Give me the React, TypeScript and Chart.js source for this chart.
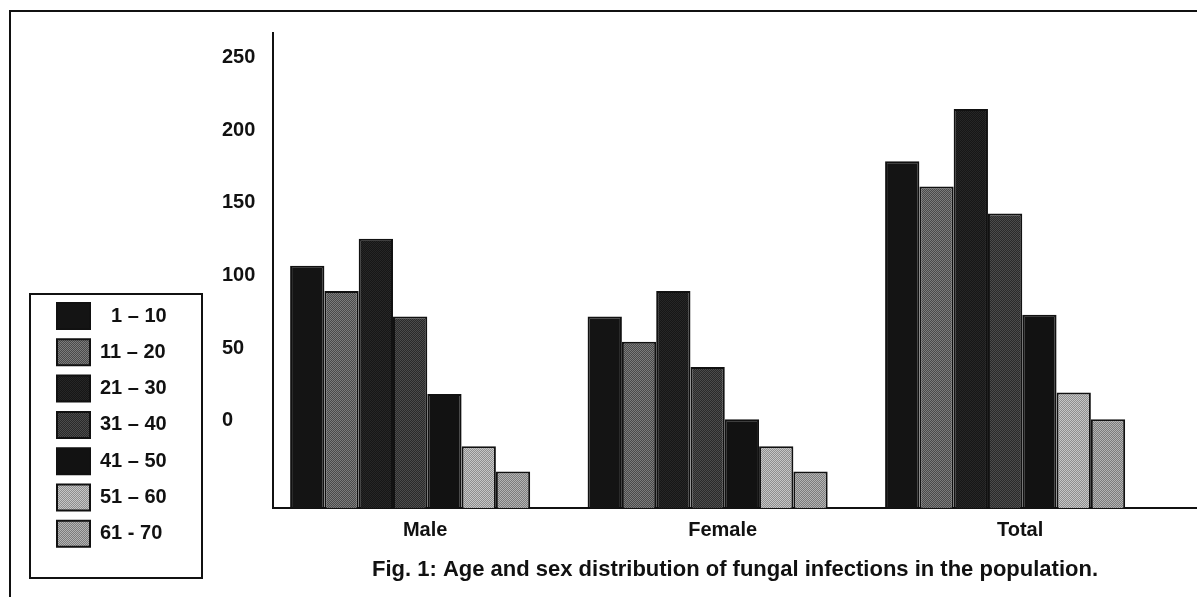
import React, { useEffect, useRef } from "react";
import { Chart, registerables } from "chart.js";

Chart.register(...registerables);

// ---- data ----
const categories = ["Male", "Female", "Total"];
const ageGroups = ["\u20071 – 10", "11 – 20", "21 – 30", "31 – 40", "41 – 50", "51 – 60", "61 - 70"];
const maleCounts = [103, 87, 120, 71, 22, -11, -27];
const femaleCounts = [71, 55, 87, 39, 6, -11, -27];
const totalCounts = [169, 153, 202, 136, 72, 23, 6];
const yTickValues = [0, 50, 100, 150, 200, 250];
const caption = "Fig. 1: Age and sex distribution of fungal infections in the population.";

// ---- styling ----
const W = 1197;
const H = 597;
const FONT = "'Liberation Sans', Arial, Helvetica, sans-serif";
const INK = "#111111";
// [base, speck] — equal values mean a solid fill
const fillSpecs: [string, string][] = [
  ["#141414", "#141414"],
  ["#4a4a4a", "#7c7c7c"],
  ["#161616", "#262626"],
  ["#2a2a2a", "#4c4c4c"],
  ["#121212", "#121212"],
  ["#8e8e8e", "#c6c6c6"],
  ["#7c7c7c", "#b4b4b4"],
];

function makeFill(a: string, b: string): string | CanvasPattern {
  if (a === b) return a;
  const c = document.createElement("canvas");
  c.width = 2;
  c.height = 2;
  const g = c.getContext("2d");
  if (!g) return a;
  g.fillStyle = a;
  g.fillRect(0, 0, 2, 2);
  g.fillStyle = b;
  g.fillRect(0, 0, 1, 1);
  g.fillRect(1, 1, 1, 1);
  return g.createPattern(c, "repeat") || a;
}

const framePlugin = {
  id: "pageFrame",
  beforeDraw(chart: any) {
    const ctx = chart.ctx;
    ctx.save();
    ctx.strokeStyle = INK;
    ctx.lineWidth = 2;
    ctx.beginPath();
    ctx.moveTo(10, H);
    ctx.lineTo(10, 11);
    ctx.lineTo(W, 11);
    ctx.stroke();
    ctx.restore();
  },
};

const legendFramePlugin = {
  id: "legendFrame",
  afterDraw(chart: any) {
    const hb = chart.legend && chart.legend.legendHitBoxes;
    if (!hb || !hb.length) return;
    const ctx = chart.ctx;
    ctx.save();
    ctx.strokeStyle = INK;
    ctx.lineWidth = 2;
    ctx.strokeRect(hb[0].left - 27, hb[0].top - 9, 172, 284);
    ctx.restore();
  },
};

export default function App() {
  const ref = useRef<HTMLCanvasElement | null>(null);

  useEffect(() => {
    if (!ref.current) return;
    const bySex = [maleCounts, femaleCounts, totalCounts];
    const datasets = ageGroups.map((label, i) => ({
      label,
      data: categories.map((_, c) => ({ x: c, y: bySex[c][i] })),
      backgroundColor: makeFill(fillSpecs[i][0], fillSpecs[i][1]),
      borderColor: INK,
      borderWidth: 2,
      base: -60,
      barPercentage: 1,
      categoryPercentage: 0.807,
    }));

    const chart = new Chart(ref.current, {
      type: "bar",
      data: { datasets },
      options: {
        animation: false,
        responsive: false,
        maintainAspectRatio: false,
        devicePixelRatio: 1,
        events: [],
        layout: { padding: { left: 46.7, top: 33, right: 0, bottom: 0 } },
        plugins: {
          tooltip: { enabled: false },
          legend: {
            display: true,
            position: "left",
            align: "start",
            title: {
              display: true,
              text: "",
              font: { size: 10, lineHeight: 1 },
              padding: { top: 249.7, bottom: 0 },
            },
            labels: {
              boxWidth: 33,
              boxHeight: 26,
              padding: 10.3,
              color: INK,
              font: { family: FONT, size: 20, weight: "bold" },
            },
          },
        },
        scales: {
          x: {
            type: "linear",
            offset: false,
            min: -0.461,
            max: 2.645,
            grid: { display: false, drawTicks: false, offset: false },
            border: { display: true, color: INK, width: 2 },
            afterBuildTicks: (s: any) => {
              s.ticks = categories.map((_, i) => ({ value: i }));
            },
            afterFit: (s: any) => {
              s.height = 89;
            },
            ticks: {
              padding: 10,
              labelOffset: 15,
              color: INK,
              font: { family: FONT, size: 20, weight: "bold" },
              callback: (v: any) => categories[v as number] ?? "",
            },
            title: {
              display: true,
              text: caption,
              color: INK,
              font: { family: FONT, size: 22, weight: "bold", lineHeight: 1.2 },
              padding: { top: 0, bottom: 14 },
            },
          },
          ySpacer: {
            type: "linear",
            position: "left",
            weight: 1,
            display: true,
            grid: { display: false, drawTicks: false },
            border: { display: false },
            ticks: { display: false },
            afterFit: (s: any) => {
              const lw = s.chart.legend ? s.chart.legend.width : 0;
              s.width = Math.max(0, 222 - 46.7 - lw);
            },
          },
          y: {
            type: "linear",
            position: "left",
            weight: 0,
            min: -60,
            max: 267,
            grid: { display: false, drawTicks: false },
            border: { display: true, color: INK, width: 2 },
            afterBuildTicks: (s: any) => {
              s.ticks = yTickValues.map((v) => ({ value: v }));
            },
            afterFit: (s: any) => {
              s.width = 51;
            },
            ticks: {
              crossAlign: "far",
              color: INK,
              font: { family: FONT, size: 20, weight: "bold" },
              callback: (v: any) => String(v),
            },
          },
        },
      } as any,
      plugins: [framePlugin, legendFramePlugin],
    });
    return () => chart.destroy();
  }, []);

  return (
    <div style={{ position: "absolute", left: 0, top: 0, width: W, height: H, background: "#fff" }}>
      <canvas ref={ref} width={W} height={H} style={{ display: "block", width: W, height: H }} />
    </div>
  );
}
